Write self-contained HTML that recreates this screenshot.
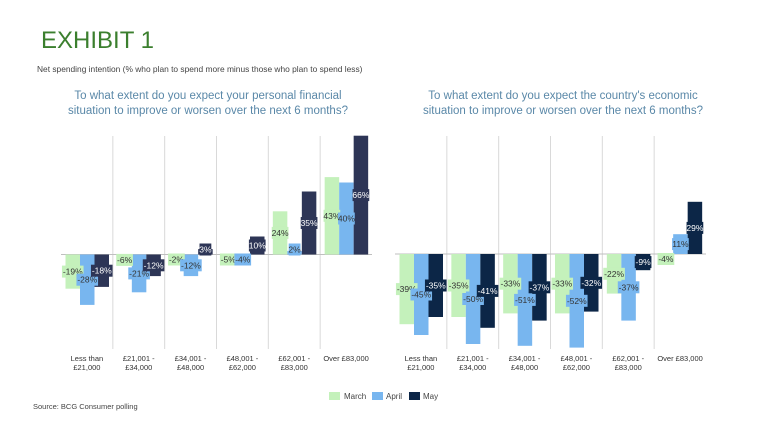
<!DOCTYPE html>
<html><head><meta charset="utf-8"><style>
body{margin:0;background:#fff;font-family:"Liberation Sans",sans-serif;}
#wrap{position:relative;width:768px;height:432px;overflow:hidden;}
</style></head><body>
<div id="wrap">
<svg id="svg" width="768" height="432">
<text x="41" y="48" font-size="24" fill="#3b7f2e">EXHIBIT 1</text>
<text x="37" y="72" font-size="8.4" fill="#444">Net spending intention (% who plan to spend more minus those who plan to spend less)</text>
<text x="208" y="99" font-size="11.5" fill="#5a88a8" text-anchor="middle">To what extent do you expect your personal financial</text>
<text x="208" y="114" font-size="11.5" fill="#5a88a8" text-anchor="middle">situation to improve or worsen over the next 6 months?</text>
<text x="563" y="99" font-size="11.5" fill="#5a88a8" text-anchor="middle">To what extent do you expect the country's economic</text>
<text x="563" y="114" font-size="11.5" fill="#5a88a8" text-anchor="middle">situation to improve or worsen over the next 6 months?</text>
<text x="33" y="409" font-size="7.5" fill="#444">Source: BCG Consumer polling</text>
<g>
<rect x="329" y="392" width="11" height="8" fill="#c4f1bb"/>
<text x="344" y="399" font-size="8" fill="#444">March</text>
<rect x="372" y="392" width="11" height="8" fill="#78b6ef"/>
<text x="386" y="399" font-size="8" fill="#444">April</text>
<rect x="409" y="392" width="11" height="8" fill="#0c2647"/>
<text x="423" y="399" font-size="8" fill="#444">May</text>
</g>
</svg>
</div>
<script>
const categories=[["Less than","£21,000"],["£21,001 -","£34,000"],["£34,001 -","£48,000"],["£48,001 -","£62,000"],["£62,001 -","£83,000"],["Over £83,000"]];
const seriesNames=["march","april","may"];
const personalMarch=[-19,-6,-2,-5,24,43];
const personalApril=[-28,-21,-12,-4,2,40];
const personalMay=[-18,-12,3,10,35,66];
const economyMarch=[-39,-35,-33,-33,-22,-4];
const economyApril=[-45,-50,-51,-52,-37,11];
const economyMay=[-35,-41,-37,-32,-9,29];

const NS="http://www.w3.org/2000/svg";
const svg=document.getElementById('svg');
function mk(tag,attrs){const e=document.createElementNS(NS,tag);for(const k in attrs)e.setAttribute(k,attrs[k]);svg.appendChild(e);return e;}

function drawChart(prefix,x0,x1,zeroY,series,colors,textColors){
  const n=categories.length, gw=(x1-x0)/n, scale=1.8;
  const y=v=>zeroY-v*scale;
  const gx=i=>x0+i*gw;
  for(let i=1;i<n;i++){
    const l=mk('line',{x1:gx(i),x2:gx(i),y1:136,y2:349,stroke:'#d9d9d9','stroke-width':1});
    
    
  }
  const ax=mk('line',{x1:x0,x2:x1,y1:zeroY,y2:zeroY,stroke:'#bfbfbf','stroke-width':1});
  
  
  const bw=14.5;
  const labels=[];
  series.forEach((vals,s)=>{
    vals.forEach((v,i)=>{
      const bx=gx(i)+4.5+s*bw;
      const top=Math.min(y(v),zeroY), h=Math.abs(y(v)-zeroY);
      const r=mk('rect',{x:bx,y:top,width:bw,height:Math.max(h,0.5),fill:colors[s]});
      
      
      const off=Math.sign(v||-1)*Math.max(h/2,5);
      labels.push({cx:bx+bw/2,cy:zeroY-off,t:v+'%',s,i});
    });
  });
  labels.forEach(L=>{
    const w=L.t.length*4.9+2;
    const b=mk('rect',{x:L.cx-w/2,y:L.cy-6,width:w,height:12,fill:L.s===0?'#c4f1bb':colors[L.s]});
    
    
    const t=mk('text',{x:L.cx,y:L.cy+3,'font-size':8.5,'text-anchor':'middle',fill:textColors[L.s]});
    t.textContent=L.t;
    
    
  });
  categories.forEach((c,i)=>{
    c.forEach((line,k)=>{
      const t=mk('text',{x:gx(i)+gw/2,y:361+k*9,'font-size':7.5,'text-anchor':'middle',fill:'#333'});
      t.textContent=line;
      
      
    });
  });
}
drawChart('personal',61,372,254.5,[personalMarch,personalApril,personalMay],['#c4f1bb','#78b6ef','#2d3556'],['#333','#333','#fff']);
drawChart('economy',395,706,254,[economyMarch,economyApril,economyMay],['#c4f1bb','#78b6ef','#0c2647'],['#333','#333','#fff']);
</script>
</body></html>
